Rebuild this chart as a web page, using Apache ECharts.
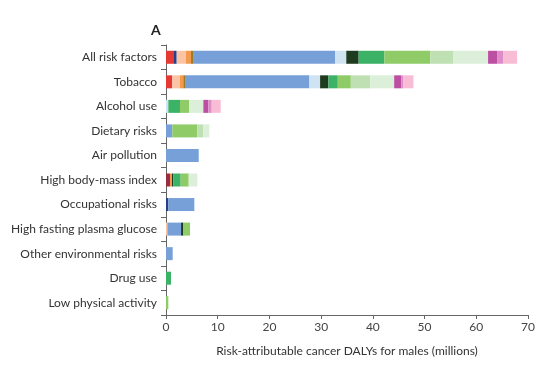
<!DOCTYPE html>
<html><head><meta charset="utf-8">
<script src="https://cdn.jsdelivr.net/npm/echarts@6/dist/echarts.min.js"></script>
<style>html,body{margin:0;padding:0;background:#fff}#c{width:550px;height:366px}</style>
</head><body><div id="c"></div>
<script>
const categories = ["All risk factors","Tobacco","Alcohol use","Dietary risks","Air pollution","High body-mass index","Occupational risks","High fasting plasma glucose","Other environmental risks","Drug use","Low physical activity"];
const xTicks = [0,10,20,30,40,50,60,70];
const red        = [1.41,1.22,0,0,0,0,0,0,0,0,0];
const maroon     = [0,0,0,0,0,0.77,0,0,0,0,0];
const darkBlue   = [0.66,0,0,0,0,0,0.45,0,0,0,0];
const peach      = [1.8,1.49,0,0,0,0,0,0.26,0,0,0];
const orange     = [0.97,0.64,0,0,0,0.39,0,0,0,0,0];
const brown      = [0.39,0.33,0,0,0,0,0,0,0,0,0];
const blue       = [27.5,24.05,0,1.22,6.33,0,5.03,2.65,1.29,0,0];
const lightBlue  = [2.13,2.07,0.45,0,0,0,0,0,0,0,0];
const darkGreen  = [2.39,1.6,0,0,0,0.26,0,0.45,0,0,0];
const green      = [4.97,1.82,2.26,0,0,1.42,0,0,0,0.97,0];
const lightGreen = [8.9,2.52,1.8,4.84,0,1.55,0,1.29,0,0,0.45];
const paleGreen  = [4.39,3.73,0,1.16,0,0,0,0,0,0,0];
const veryPale   = [6.77,4.65,2.71,1.16,0,1.68,0,0,0,0,0];
const magenta    = [1.74,1.35,0.97,0,0,0,0,0,0,0,0];
const pinkPurple = [1.16,0.45,0.65,0,0,0,0,0,0,0,0];
const lightPink  = [2.71,1.93,1.74,0,0,0,0,0,0,0,0];

const segs = [
  [red,'#e53a34'],[maroon,'#9a2c45'],[darkBlue,'#26408b'],[peach,'#fbc4a4'],[orange,'#f39a4f'],
  [brown,'#9c7b27'],[blue,'#78a0d8'],[lightBlue,'#cfe3f3'],[darkGreen,'#1e3b1f'],[green,'#3bb265'],
  [lightGreen,'#8fcb67'],[paleGreen,'#bfe0b3'],[veryPale,'#dcefd9'],[magenta,'#bd4fa3'],
  [pinkPurple,'#dc8cc7'],[lightPink,'#f8bdd5']
];
const FONT = 'Lato';
const chart = echarts.init(document.getElementById('c'), null, {renderer:'canvas'});
chart.setOption({
  animation:false,
  textStyle:{fontFamily:FONT},
  title:{text:'A', left:146, top:18, textStyle:{fontSize:14, fontWeight:'bold', color:'#222', fontFamily:FONT}},
  grid:{left:166, right:22, top:45, bottom:51, containLabel:false},
  xAxis:{type:'value', min:0, max:70, interval:10,
    axisLine:{show:true, lineStyle:{color:'#666', width:1}},
    axisTick:{show:true, length:4, lineStyle:{color:'#666'}},
    splitLine:{show:false},
    axisLabel:{color:'#444', fontSize:12, margin:6, formatter:v=>xTicks.includes(v)?String(v):''},
    name:'Risk-attributable cancer DALYs for males (millions)', nameLocation:'middle', nameGap:30,
    nameTextStyle:{color:'#333', fontSize:12, fontFamily:FONT}},
  yAxis:{type:'category', data:categories, inverse:true,
    axisLine:{show:true, lineStyle:{color:'#666', width:1}},
    axisTick:{show:true, length:5, lineStyle:{color:'#666'}},
    axisLabel:{color:'#333', fontSize:12, margin:9}},
  series: segs.map(([d,c])=>({type:'bar', stack:'t', data:d, barWidth:13,
    itemStyle:{color:c}, emphasis:{disabled:true}}))
});
</script></body></html>
